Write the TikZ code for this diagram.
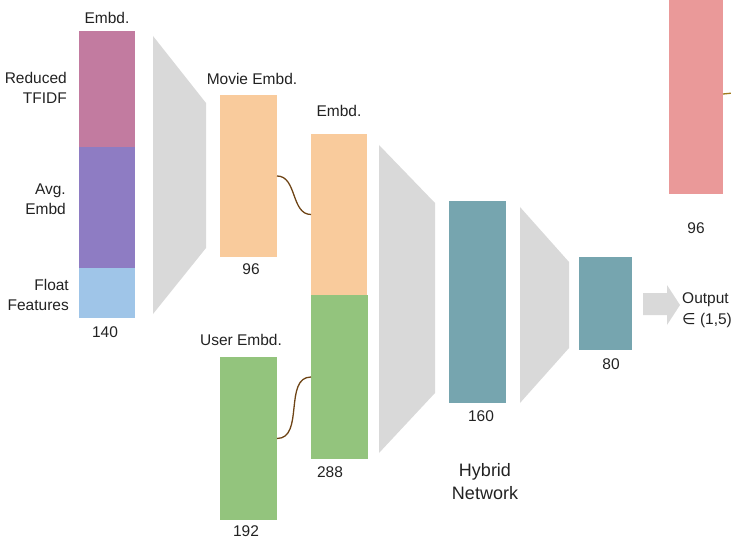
\documentclass[tikz,border=0pt]{standalone}
\usepackage{fontspec}
\setmainfont{Liberation Sans}
\newfontfamily\symfnt{DejaVu Sans}
\begin{document}
\definecolor{cpink}{HTML}{C27BA0}
\definecolor{cpurple}{HTML}{8E7CC3}
\definecolor{cblue}{HTML}{9FC5E8}
\definecolor{corange}{HTML}{F9CB9C}
\definecolor{cgreen}{HTML}{93C47D}
\definecolor{cteal}{HTML}{76A5AF}
\definecolor{csalmon}{HTML}{EA9999}
\definecolor{cgray}{HTML}{D9D9D9}
\definecolor{cbrown}{HTML}{6E4416}
\definecolor{colive}{HTML}{A07B1E}
\definecolor{ctext}{HTML}{222222}
\begin{tikzpicture}[x=1pt,y=-1pt,
  bar/.style={rectangle, inner sep=0pt, outer sep=0pt, anchor=north west, draw=none},
  lbl/.style={inner sep=0pt, text=ctext, font=\fontsize{15.5}{20.5}\selectfont},
  layer/.style={fill=cgray, draw=none},
  conn/.style={draw=cbrown, line width=1.3pt}]
\useasboundingbox (0,0) rectangle (731,540);
% input stacked bar
\node[bar, fill=cpink, minimum width=56pt, minimum height=116pt] (tfidf) at (79,31) {};
\node[bar, fill=cpurple, minimum width=56pt, minimum height=121pt] (avg) at (79,147) {};
\node[bar, fill=cblue, minimum width=56pt, minimum height=50pt] (flt) at (79,268) {};
\node[lbl] (lembd) at (107,18) {Embd.};
\node[lbl] (l140) at (105,332) {140};
\node[lbl, align=right, anchor=east] (ltfidf) at (67,88) {Reduced\\TFIDF};
\node[lbl, align=right, anchor=east] (lavg) at (66,199) {Avg.\\Embd};
\node[lbl, align=right, anchor=east] (lflt) at (69,295) {Float\\Features};
% layer 1
\fill[layer] (153,36) -- (206,103) -- (206,248) -- (153,314) -- cycle;
% movie
\node[bar, fill=corange, minimum width=57pt, minimum height=162pt] (movie) at (220,95) {};
\node[lbl] (lmovie) at (252,79) {Movie Embd.};
\node[lbl] (l96a) at (251,269) {96};
% user
\node[bar, fill=cgreen, minimum width=57pt, minimum height=163pt] (user) at (220,357) {};
\node[lbl] (luser) at (241,340) {User Embd.};
\node[lbl] (l192) at (246,531) {192};
% concatenated
\node[bar, fill=corange, minimum width=56pt, minimum height=161pt] (embA) at (311,134) {};
\node[bar, fill=cgreen, minimum width=57pt, minimum height=164pt] (embB) at (311,295) {};
\node[lbl] (lemb2) at (339,111) {Embd.};
\node[lbl] (l288) at (330,472) {288};
\draw[conn] (movie.east) to[out=0, in=180] (embA.west);
\draw[conn] (user.east) to[out=0, in=180] (embB.west);
% layer 2
\fill[layer] (379,145) -- (435,203) -- (435,393) -- (379,453) -- cycle;
\node[bar, fill=cteal, minimum width=57pt, minimum height=202pt] (h160) at (449,201) {};
\node[lbl] (l160) at (481,416) {160};
% layer 3
\fill[layer] (520,207) -- (569,262) -- (569,348) -- (520,403) -- cycle;
\node[bar, fill=cteal, minimum width=53pt, minimum height=93pt] (h80) at (579,257) {};
\node[lbl] (l80) at (611,364) {80};
\node[lbl, align=center, font=\fontsize{18}{23}\selectfont] (lhyb) at (485,482) {Hybrid\\Network};
% output arrow
\fill[cgray] (643,293) -- (667,293) -- (667,285) -- (680,305) -- (667,325) -- (667,315) -- (643,315) -- cycle;
\node[lbl, align=left, anchor=west] (lout) at (682,310) {Output\\{\symfnt ∈} (1,5)};
% right partial bar
\node[bar, fill=csalmon, minimum width=54pt, minimum height=200pt] (rbar) at (669,-6) {};
\node[lbl] (l96b) at (696,228) {96};
\coordinate (rend) at (733,93);
\draw[draw=colive, line width=1.3pt] (rbar.east) to[out=0, in=180] (rend);
\end{tikzpicture}
\end{document}
